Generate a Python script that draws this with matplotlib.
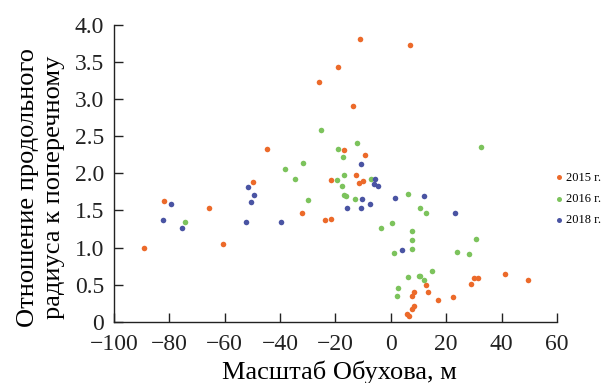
import matplotlib
matplotlib.use("Agg")
import matplotlib.pyplot as plt
from matplotlib.ticker import FuncFormatter

# Data
x2015 = [-89.1, -81.8, -65.8, -60.8, -49.8, -44.6, -32.1, -25.9, -23.9, -21.5, -21.6, -19.1,
         -16.8, -13.7, -12.6, -11.5, -11.2, -9.9, -9.2, 7.0, 5.8, 6.6, 7.7, 8.4, 7.6, 8.2,
         12.8, 13.4, 17.2, 22.4, 28.8, 30.2, 31.6, 41.4, 49.6]
y2015 = [0.99, 1.63, 1.53, 1.05, 1.88, 2.32, 1.47, 3.23, 1.37, 1.38, 1.91, 3.43,
         2.31, 2.90, 1.97, 1.87, 3.80, 1.90, 2.25, 3.73, 0.11, 0.08, 0.18, 0.21, 0.35, 0.40,
         0.50, 0.40, 0.30, 0.34, 0.51, 0.59, 0.59, 0.64, 0.56]

x2016 = [-74.2, -38.1, -34.5, -31.9, -29.9, -25.4, -19.6, -19.2, -17.8, -17.4, -17.1, -16.8,
         -16.2, -13.1, -12.2, -7.1, -3.7, 0.5, 1.1, 2.4, 2.3, 6.2, 6.2, 7.8, 7.7, 7.7,
         10.0, 10.6, 10.5, 11.8, 12.8, 14.8, 23.8, 28.3, 30.7, 32.7]
y2016 = [1.34, 2.06, 1.92, 2.14, 1.64, 2.58, 1.91, 2.33, 1.83, 2.22, 1.97, 1.71,
         1.69, 1.66, 2.41, 1.92, 1.26, 1.33, 0.93, 0.46, 0.35, 1.72, 0.61, 1.23, 1.10, 0.98,
         0.62, 0.62, 1.53, 0.56, 1.46, 0.68, 0.94, 0.91, 1.12, 2.35]

x2018 = [-82.3, -79.3, -75.3, -52.5, -51.5, -50.4, -49.4, -39.6, -15.7, -10.7, -10.7, -10.3,
         -7.7, -6.0, -5.6, -4.8, 1.6, 4.2, 12.1, 23.1]
y2018 = [1.37, 1.58, 1.26, 1.34, 1.82, 1.62, 1.71, 1.34, 1.53, 2.13, 1.53, 1.66,
         1.59, 1.86, 1.92, 1.83, 1.67, 0.97, 1.70, 1.47]

labels = ["2015 г.", "2016 г.", "2018 г."]
xticks = [-100, -80, -60, -40, -20, 0, 20, 40, 60]
yticks = [0, 0.5, 1.0, 1.5, 2.0, 2.5, 3.0, 3.5, 4.0]

plt.rcParams['font.family'] = ['Liberation Serif', 'DejaVu Serif']

fig = plt.figure(figsize=(6.09, 3.83), dpi=100)
ax = fig.add_axes([0.1872, 0.1593, 0.7274, 0.7767])

colors = ['#EC6A2A', '#7CC35C', '#4A54A3']
s = 16
ax.scatter(x2015, y2015, s=s, color=colors[0], label=labels[0], linewidths=0, zorder=3)
ax.scatter(x2016, y2016, s=s, color=colors[1], label=labels[1], linewidths=0, zorder=3)
ax.scatter(x2018, y2018, s=s, color=colors[2], label=labels[2], linewidths=0, zorder=3)

ax.set_xlim(-100, 60)
ax.set_ylim(0, 4)
ax.set_xticks(xticks)
ax.set_yticks(yticks)
ax.xaxis.set_major_formatter(FuncFormatter(lambda v, p: f"{int(v)}".replace('-', '\u2212')))
ax.yaxis.set_major_formatter(FuncFormatter(lambda v, p: "0" if v == 0 else f"{v:.1f}"))

for sp in ['top', 'right']:
    ax.spines[sp].set_visible(False)
for sp in ['left', 'bottom']:
    ax.spines[sp].set_linewidth(1.0)
    ax.spines[sp].set_color('#222222')

ax.tick_params(direction='in', length=6.5, width=1.0, labelsize=17, colors='#222222')
ax.tick_params(axis='x', pad=9)
ax.tick_params(axis='y', pad=7)

ax.set_xlabel("Масштаб Обухова, м", fontsize=19, va='center')
ax.xaxis.set_label_coords(0.51, -0.168)
ax.set_ylabel("Отношение продольного\nрадиуса к поперечному", fontsize=19,
              linespacing=1.2, va='center')
ax.yaxis.set_label_coords(-0.165, 0.452)

leg = fig.legend(loc='upper left', bbox_to_anchor=(0.9, 0.565), frameon=False,
                 fontsize=9, handletextpad=0.05, labelspacing=0.75, markerscale=0.9,
                 handlelength=1.0, borderaxespad=0)

fig.savefig("out.png", dpi=100)
